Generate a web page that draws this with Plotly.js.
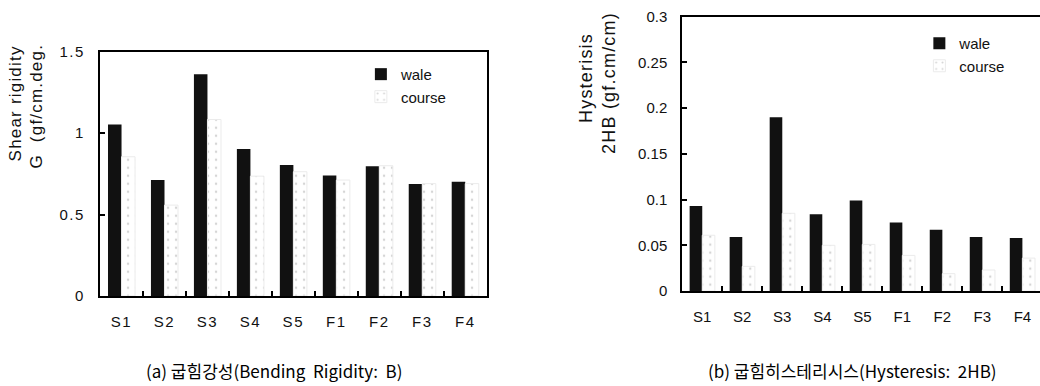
<!DOCTYPE html>
<html>
<head>
<meta charset="utf-8">
<script src="https://cdn.plot.ly/plotly-3.0.1.min.js"></script>
<style>
html,body{margin:0;padding:0;background:#fff;}
#chart{width:1040px;height:386px;}
#chart .xtick text, #chart .ytick text { letter-spacing: 1.6px; }
#chart .annotation[data-index="0"] text, #chart .annotation[data-index="1"] text,
#chart .annotation[data-index="2"] text, #chart .annotation[data-index="3"] text { letter-spacing: 1.2px; }
</style>
</head>
<body>
<div id="chart"></div>
<script>
const categories = ['S1', 'S2', 'S3', 'S4', 'S5', 'F1', 'F2', 'F3', 'F4'];
const shearWale   = [1.053, 0.712, 1.362, 0.902, 0.804, 0.740, 0.797, 0.687, 0.701];
const shearCourse = [0.855, 0.558, 1.084, 0.736, 0.763, 0.712, 0.800, 0.690, 0.690];
const hystWale    = [0.093, 0.059, 0.190, 0.084, 0.099, 0.075, 0.067, 0.059, 0.058];
const hystCourse  = [0.061, 0.027, 0.085, 0.050, 0.051, 0.039, 0.019, 0.023, 0.036];
const seriesNames = ['wale', 'course'];

const txtFont = '"Liberation Sans", Arial, sans-serif';
const walePaint = {color: '#111111'};
const coursePaint = {color: '#ffffff', line: {color: '#ebebeb', width: 1},
  pattern: {shape: '.', fgcolor: '#d4d4d4', bgcolor: '#ffffff', size: 8, solidity: 0.07}};

const traces = [
  {type: 'bar', x: categories, y: shearWale, name: seriesNames[0], marker: walePaint, xaxis: 'x', yaxis: 'y', legend: 'legend'},
  {type: 'bar', x: categories, y: shearCourse, name: seriesNames[1], marker: coursePaint, xaxis: 'x', yaxis: 'y', legend: 'legend'},
  {type: 'bar', x: categories, y: hystWale, name: seriesNames[0], marker: walePaint, xaxis: 'x2', yaxis: 'y2', legend: 'legend2'},
  {type: 'bar', x: categories, y: hystCourse, name: seriesNames[1], marker: coursePaint, xaxis: 'x2', yaxis: 'y2', legend: 'legend2'}
];

const axCommon = {showgrid: false, zeroline: false, showline: true, linecolor: '#000', linewidth: 2,
  ticks: 'inside', ticklen: 5, tickwidth: 2, tickcolor: '#000',
  tickfont: {family: txtFont, size: 15, color: '#111'}};

const layout = {
  width: 1040, height: 386,
  margin: {l: 0, r: 0, t: 0, b: 0},
  paper_bgcolor: '#fff', plot_bgcolor: '#fff',
  barmode: 'group', bargap: 0.37, bargroupgap: 0,
  showlegend: true,
  xaxis: Object.assign({}, axCommon, {domain: [0.0962, 0.468], anchor: 'y', type: 'category',
    range: [-0.5, 8.5], mirror: true, tickson: 'boundaries', ticklabelstandoff: 11}),
  yaxis: Object.assign({}, axCommon, {domain: [0.2332, 0.866], anchor: 'x', range: [0, 1.5],
    dtick: 0.5, mirror: true, ticklabelstandoff: 10}),
  xaxis2: Object.assign({}, axCommon, {domain: [0.656, 1], anchor: 'y2', type: 'category',
    range: [-0.5, 8.44], mirror: true, tickson: 'boundaries', ticklabelstandoff: 11}),
  yaxis2: Object.assign({}, axCommon, {domain: [0.246, 0.957], anchor: 'x2', range: [0, 0.3],
    dtick: 0.05, mirror: false, ticklabelstandoff: 10}),
  legend: {x: 0.347, y: 0.85, xanchor: 'left', yanchor: 'top', bgcolor: 'rgba(0,0,0,0)',
    font: {family: txtFont, size: 15, color: '#111'}, itemwidth: 30, tracegroupgap: 0},
  legend2: {x: 0.884, y: 0.93, xanchor: 'left', yanchor: 'top', bgcolor: 'rgba(0,0,0,0)',
    font: {family: txtFont, size: 15, color: '#111'}, itemwidth: 30, tracegroupgap: 0},
  annotations: [
    {xref: 'paper', yref: 'paper', x: 15 / 1040, y: 1 - 103 / 386, text: 'Shear rigidity', textangle: -90,
      showarrow: false, xanchor: 'center', yanchor: 'middle', font: {family: txtFont, size: 17, color: '#111'}},
    {xref: 'paper', yref: 'paper', x: 37 / 1040, y: 1 - 106 / 386, text: 'G\u00a0\u00a0(gf/cm.deg.', textangle: -90,
      showarrow: false, xanchor: 'center', yanchor: 'middle', font: {family: txtFont, size: 17, color: '#111'}},
    {xref: 'paper', yref: 'paper', x: 586 / 1040, y: 1 - 78 / 386, text: 'Hysterisis', textangle: -90,
      showarrow: false, xanchor: 'center', yanchor: 'middle', font: {family: txtFont, size: 18, color: '#111'}},
    {xref: 'paper', yref: 'paper', x: 608 / 1040, y: 1 - 148 / 386, text: '2HB (gf.cm/cm)', textangle: -90,
      showarrow: false, xanchor: 'center', yanchor: 'bottom', font: {family: txtFont, size: 18, color: '#111'}},
    {xref: 'paper', yref: 'paper', x: 274 / 1040, y: 1 - 370 / 386, text: '(a) 굽힘강성(Bending\u00a0 Rigidity:\u00a0 B)',
      showarrow: false, xanchor: 'center', yanchor: 'middle', font: {family: '"Noto Sans CJK KR", sans-serif', size: 17, color: '#000'}},
    {xref: 'paper', yref: 'paper', x: 852 / 1040, y: 1 - 370 / 386, text: '(b) 굽힘히스테리시스(Hysteresis:\u00a0 2HB)',
      showarrow: false, xanchor: 'center', yanchor: 'middle', font: {family: '"Noto Sans CJK KR", sans-serif', size: 17, color: '#000'}}
  ]
};

Plotly.newPlot('chart', traces, layout, {displayModeBar: false, staticPlot: true});
</script>
</body>
</html>
